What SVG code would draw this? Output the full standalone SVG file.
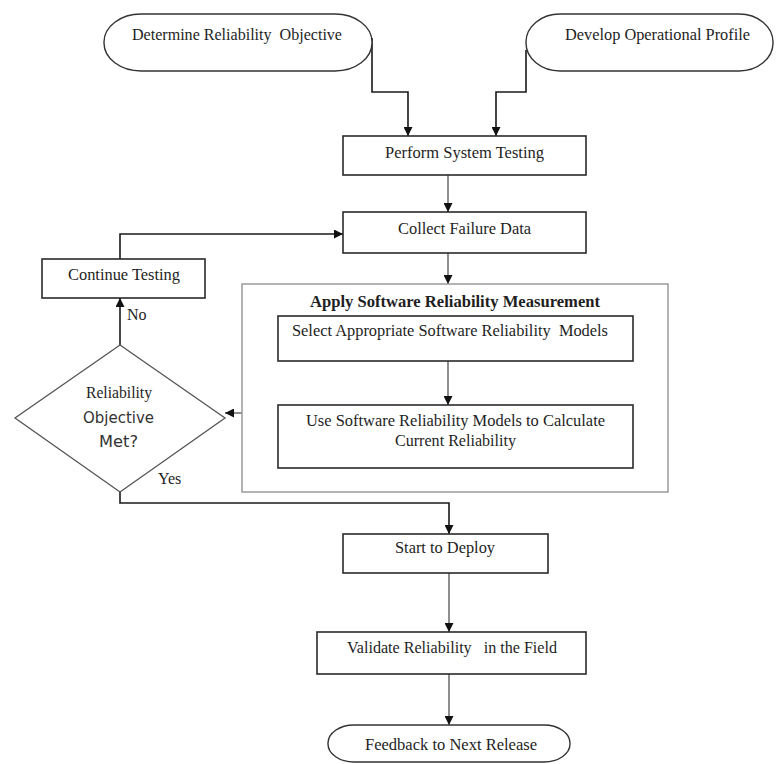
<svg xmlns="http://www.w3.org/2000/svg" width="776" height="764" viewBox="0 0 776 764">
  <style>
    .box { fill: #ffffff; stroke: #2a2a2a; stroke-width: 1.6; }
    .term { fill: #ffffff; stroke: #333333; stroke-width: 1.4; }
    .group { fill: none; stroke: #9a9a9a; stroke-width: 1.5; }
    .dec { fill: #ffffff; stroke: #555555; stroke-width: 1.3; }
    .t { font-family: "Liberation Serif", "Times New Roman", serif; font-size: 16px; fill: #1e1e1e; }
    .tc { text-anchor: middle; }
    .b { font-weight: bold; }
    .sans { font-family: "DejaVu Sans", Verdana, sans-serif; font-size: 15px; fill: #333333; }
    .wire { fill: none; stroke: #1a1a1a; stroke-width: 1.6; }
    .wire.thin { stroke: #444444; stroke-width: 1.2; }
  </style>
  <defs>
    <marker id="arrow" viewBox="0 0 10 10" refX="10" refY="5" markerWidth="9" markerHeight="9" markerUnits="userSpaceOnUse" orient="auto">
      <path d="M0,0 L10,5 L0,10 Z" fill="#111111"/>
    </marker>
  </defs>

  <rect width="776" height="764" fill="#ffffff"/>

  <!-- Connectors -->
  <g id="connectors">
    <path class="wire" d="M372,38 V92 H408 V136" marker-end="url(#arrow)"/>
    <path class="wire" d="M526,50 V92 H496 V136" marker-end="url(#arrow)"/>
    <path class="wire thin" d="M448,175 V212" marker-end="url(#arrow)"/>
    <path class="wire thin" d="M448,253 V284" marker-end="url(#arrow)"/>
    <path class="wire thin" d="M448,361 V405" marker-end="url(#arrow)"/>
    <path class="wire thin" d="M242,413 H225" marker-end="url(#arrow)"/>
    <path class="wire" d="M120,345 V298" marker-end="url(#arrow)"/>
    <path class="wire" d="M120,259 V234 H343" marker-end="url(#arrow)"/>
    <path class="wire" d="M120,492 V503 H449 V534" marker-end="url(#arrow)"/>
    <path class="wire thin" d="M449,573 V632" marker-end="url(#arrow)"/>
    <path class="wire thin" d="M449,674 V725" marker-end="url(#arrow)"/>
  </g>

  <g id="determine-objective">
    <rect class="term" x="104" y="14" width="268" height="57" rx="37" ry="28"/>
    <text class="t" x="132" y="40" textLength="210" lengthAdjust="spacingAndGlyphs" xml:space="preserve">Determine Reliability  Objective</text>
  </g>

  <g id="operational-profile">
    <rect class="term" x="526" y="14" width="247" height="57" rx="34" ry="28"/>
    <text class="t" x="565" y="40" textLength="185" lengthAdjust="spacingAndGlyphs">Develop Operational Profile</text>
  </g>

  <g id="system-testing">
    <rect class="box" x="343" y="136" width="243" height="39"/>
    <text class="t" x="385" y="158" textLength="159" lengthAdjust="spacingAndGlyphs">Perform System Testing</text>
  </g>

  <g id="collect-data">
    <rect class="box" x="343" y="212" width="243" height="41"/>
    <text class="t" x="398" y="234" textLength="133" lengthAdjust="spacingAndGlyphs">Collect Failure Data</text>
  </g>

  <g id="continue-testing">
    <rect class="box" x="42" y="259" width="163" height="39"/>
    <text class="t" x="68" y="280" textLength="112" lengthAdjust="spacingAndGlyphs">Continue Testing</text>
  </g>

  <g id="measurement">
    <rect class="group" x="242" y="284" width="426" height="208"/>
    <text class="t b" x="310" y="307" textLength="290" lengthAdjust="spacingAndGlyphs">Apply Software Reliability Measurement</text>
  </g>

  <g id="select-models">
    <rect class="box" x="278" y="316" width="355" height="45"/>
    <text class="t" x="292" y="336" textLength="316" lengthAdjust="spacingAndGlyphs" xml:space="preserve">Select Appropriate Software Reliability  Models</text>
  </g>

  <g id="calculate-reliability">
    <rect class="box" x="278" y="405" width="355" height="63"/>
    <text class="t" x="306" y="426" textLength="299" lengthAdjust="spacingAndGlyphs">Use Software Reliability Models to Calculate</text>
    <text class="t" x="395" y="446" textLength="121" lengthAdjust="spacingAndGlyphs">Current Reliability</text>
  </g>

  <g id="objective-met">
    <polygon class="dec" points="120,345 225,418 120,492 15,418"/>
    <text class="t" x="86" y="398" textLength="66" lengthAdjust="spacingAndGlyphs">Reliability</text>
    <text class="sans" x="83" y="423" textLength="71" lengthAdjust="spacingAndGlyphs">Objective</text>
    <text class="sans" x="99" y="447" textLength="39" lengthAdjust="spacingAndGlyphs">Met?</text>
    <text class="t" x="127" y="320">No</text>
    <text class="t" x="158" y="484">Yes</text>
  </g>

  <g id="start-deploy">
    <rect class="box" x="343" y="534" width="205" height="39"/>
    <text class="t" x="395" y="553" textLength="100" lengthAdjust="spacingAndGlyphs">Start to Deploy</text>
  </g>

  <g id="validate-field">
    <rect class="box" x="317" y="632" width="269" height="42"/>
    <text class="t" x="347" y="653" textLength="210" lengthAdjust="spacingAndGlyphs" xml:space="preserve">Validate Reliability   in the Field</text>
  </g>

  <g id="feedback">
    <rect class="term" x="328" y="725" width="242" height="37" rx="26" ry="18"/>
    <text class="t" x="365" y="750" textLength="172" lengthAdjust="spacingAndGlyphs">Feedback to Next Release</text>
  </g>
</svg>
